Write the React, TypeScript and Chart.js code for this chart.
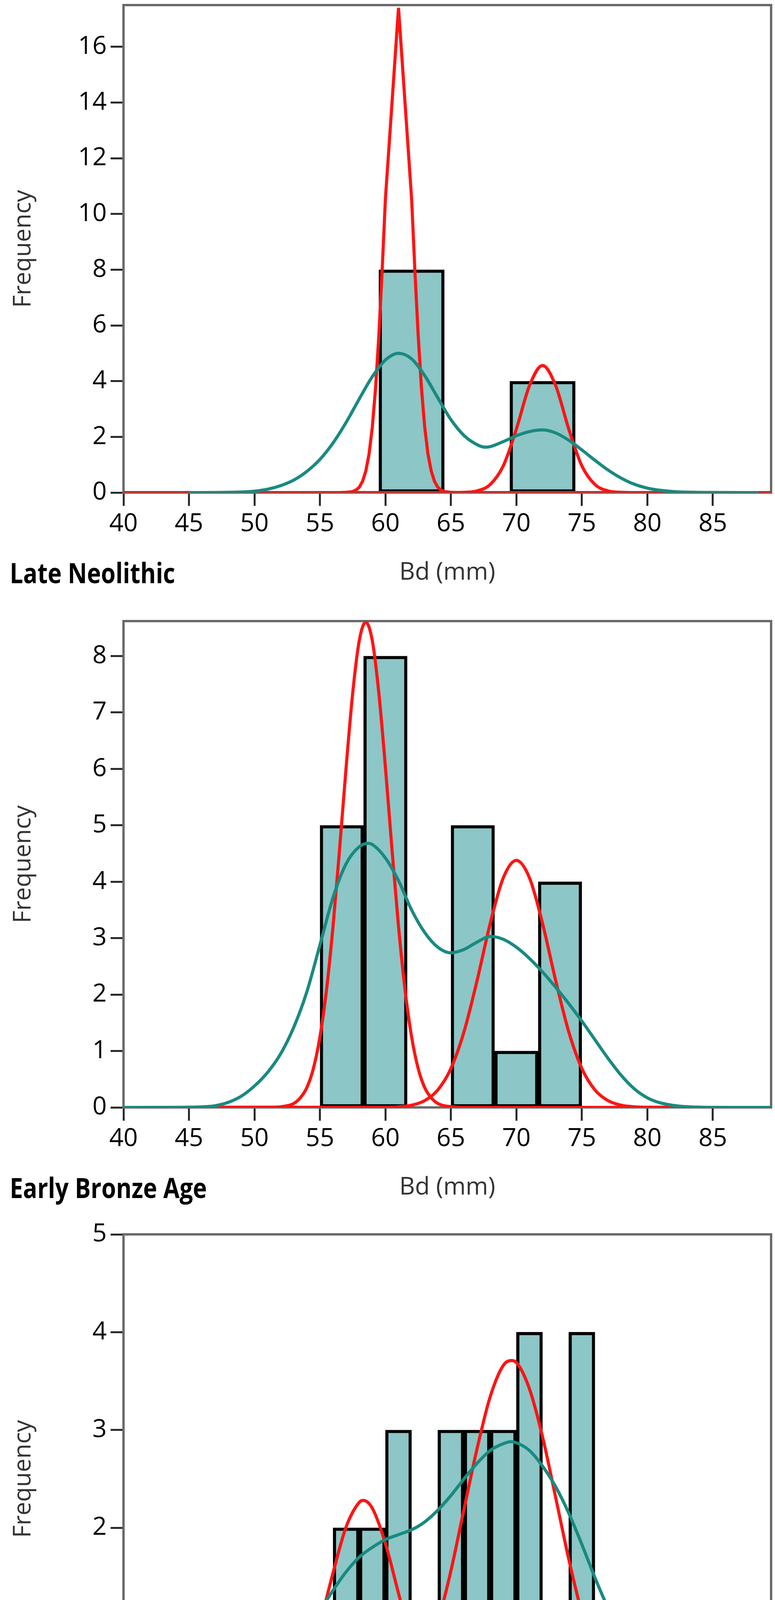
import React, { useEffect, useRef } from "react";
import { Chart, registerables } from "chart.js";

Chart.register(...registerables);

// ---- Late Neolithic ----
const lnBinCenters = [62, 67, 72];
const lnCounts = [8, 0, 4];
const lnRedAX = [40, 56.5, 57, 57.25, 57.5, 57.75, 58, 58.25, 58.5, 58.75, 59, 59.25, 59.5, 59.75, 60, 61, 62, 62.25, 62.5, 62.75, 63, 63.25, 63.5, 63.75, 64, 64.25, 64.5, 64.75, 65, 65.5, 89.45];
const lnRedAY = [0, 0, 0.01, 0.02, 0.04, 0.09, 0.19, 0.4, 0.77, 1.38, 2.35, 3.76, 5.66, 7.97, 10.55, 17.4, 10.55, 7.97, 5.66, 3.76, 2.35, 1.38, 0.77, 0.4, 0.19, 0.09, 0.04, 0.02, 0.01, 0, 0];
const lnRedBX = [40, 64, 65, 66, 67, 68, 69, 70, 71, 72, 73, 74, 75, 76, 77, 78, 79, 89.45];
const lnRedBY = [0, 0, 0.001, 0.01, 0.06, 0.29, 0.96, 2.28, 3.84, 4.56, 3.84, 2.28, 0.96, 0.29, 0.06, 0.01, 0, 0];
const lnTealX = [45, 48, 50, 51, 52, 53, 54, 55, 56, 57, 58, 59, 60, 61, 62, 63, 64, 65, 66, 67, 67.6, 68, 69, 70, 71, 72, 73, 74, 75, 76, 77, 78, 79, 80, 81, 82, 84, 88.5];
const lnTealY = [0, 0.01, 0.05, 0.12, 0.25, 0.45, 0.76, 1.19, 1.78, 2.52, 3.36, 4.16, 4.76, 5.0, 4.8, 4.2, 3.4, 2.62, 2.05, 1.72, 1.63, 1.65, 1.83, 2.04, 2.19, 2.25, 2.14, 1.88, 1.53, 1.16, 0.81, 0.52, 0.3, 0.16, 0.08, 0.035, 0.008, 0];

// ---- Early Bronze Age ----
const ebBinCenters = [56.67, 60, 63.33, 66.67, 70, 73.33];
const ebCounts = [5, 8, 0, 5, 1, 4];
const ebRedAX = [40, 51.5, 52.5, 53, 53.5, 54, 54.5, 55, 55.5, 56, 56.5, 57, 57.5, 58, 58.5, 59, 59.5, 60, 60.5, 61, 61.5, 62, 62.5, 63, 63.5, 64, 64.5, 65.5, 66, 89.45];
const ebRedAY = [0, 0.004, 0.03, 0.07, 0.17, 0.35, 0.69, 1.25, 2.08, 3.21, 4.58, 6.03, 7.34, 8.27, 8.6, 8.27, 7.34, 6.03, 4.58, 3.21, 2.08, 1.25, 0.69, 0.35, 0.17, 0.07, 0.03, 0.004, 0, 0];
const ebRedBX = [40, 60, 61, 62, 63, 64, 65, 66, 67, 68, 69, 70, 71, 72, 73, 74, 75, 76, 77, 78, 79, 80, 89.45];
const ebRedBY = [0, 0.003, 0.011, 0.039, 0.12, 0.31, 0.69, 1.34, 2.25, 3.26, 4.07, 4.38, 4.07, 3.26, 2.25, 1.34, 0.69, 0.31, 0.12, 0.039, 0.011, 0.003, 0];
const ebTealX = [40, 44, 45, 46, 47, 48, 49, 50, 51, 52, 53, 54, 55, 56, 57, 58, 58.7, 59, 60, 61, 62, 63, 64, 65, 66, 67, 68, 69, 70, 71, 72, 73, 74, 75, 76, 77, 78, 79, 80, 81, 82, 83, 84, 85, 89.45];
const ebTealY = [0, 0, 0.003, 0.01, 0.03, 0.09, 0.2, 0.38, 0.62, 0.95, 1.42, 2.05, 2.88, 3.72, 4.32, 4.62, 4.68, 4.66, 4.42, 4.02, 3.5, 3.1, 2.84, 2.74, 2.8, 2.93, 3.03, 2.98, 2.84, 2.64, 2.4, 2.13, 1.84, 1.53, 1.2, 0.87, 0.57, 0.33, 0.17, 0.08, 0.035, 0.013, 0.004, 0, 0];

// ---- Late Bronze Age ----
const lbBinCenters = [55, 57, 59, 61, 63, 65, 67, 69, 71, 73, 75];
const lbCounts = [1, 2, 2, 3, 0, 3, 3, 3, 4, 1, 4];
const lbRedAX = [40, 48, 49, 50, 51, 52, 53, 54, 55, 56, 57, 58, 58.3, 59, 60, 61, 62, 63, 64, 65, 66, 67, 68, 89.45];
const lbRedAY = [0, 0, 0.004, 0.014, 0.044, 0.12, 0.29, 0.58, 1.02, 1.54, 2.01, 2.26, 2.28, 2.2, 1.84, 1.33, 0.83, 0.45, 0.21, 0.082, 0.028, 0.008, 0.002, 0];
const lbRedBX = [40, 56, 57, 58, 59, 60, 61, 62, 63, 64, 65, 66, 67, 68, 69, 69.6, 70, 71, 72, 73, 74, 75, 76, 77, 78, 79, 80, 81, 82, 83, 89.45];
const lbRedBY = [0, 0.002, 0.006, 0.015, 0.038, 0.086, 0.18, 0.35, 0.63, 1.03, 1.56, 2.19, 2.81, 3.34, 3.66, 3.71, 3.69, 3.42, 2.93, 2.31, 1.68, 1.13, 0.7, 0.4, 0.21, 0.1, 0.045, 0.019, 0.007, 0.002, 0];
const lbTealX = [40, 44, 45, 46, 47, 48, 49, 50, 51, 52, 53, 54, 55, 56, 57, 58, 59, 60, 61, 62, 63, 64, 65, 66, 67, 68, 69, 69.6, 70, 71, 72, 73, 74, 75, 76, 77, 78, 79, 80, 81, 82, 83, 84, 85, 86, 89.45];
const lbTealY = [0, 0, 0.01, 0.02, 0.05, 0.1, 0.18, 0.28, 0.4, 0.54, 0.72, 0.93, 1.15, 1.36, 1.55, 1.7, 1.8, 1.88, 1.93, 1.98, 2.06, 2.18, 2.33, 2.5, 2.66, 2.79, 2.86, 2.88, 2.87, 2.79, 2.63, 2.42, 2.15, 1.83, 1.49, 1.18, 0.9, 0.65, 0.42, 0.26, 0.14, 0.07, 0.03, 0.01, 0, 0];

const X_MIN = 40;
const X_MAX = 89.45;

const RED = "#ff1414";
const TEAL = "#198a80";
const BAR_FILL = "#8cc6c6";
const FONT = "'Open Sans', 'Noto Sans', sans-serif";

const pts = (xs: number[], ys: number[]) => xs.map((x, i) => ({ x, y: ys[i] }));

const framePlugin = {
  id: "plotFrame",
  beforeDatasetsDraw(chart: any) {
    const { ctx, chartArea: a } = chart;
    ctx.save();
    ctx.strokeStyle = "#6a6a6a";
    ctx.lineWidth = 6;
    ctx.strokeRect(a.left, a.top, a.right - a.left, a.bottom - a.top);
    ctx.restore();
  },
};

type PanelProps = {
  top: number;
  plotHeight: number;
  label: string;
  yMax: number;
  yStep: number;
  centers: number[];
  counts: number[];
  redA: [number[], number[]];
  redB: [number[], number[]];
  teal: [number[], number[]];
  sharpRed?: boolean;
};

const PAD_TOP = 60;
const X_AXIS_H = 250;
const Y_AXIS_W = 316;

const Panel: React.FC<PanelProps> = (p) => {
  const ref = useRef<HTMLCanvasElement | null>(null);
  const chartRef = useRef<Chart | null>(null);
  const height = PAD_TOP + p.plotHeight + X_AXIS_H;

  useEffect(() => {
    if (!ref.current) return;
    const line = (xs: number[], ys: number[], color: string, sharp = false) => ({
      type: "line" as const,
      data: pts(xs, ys),
      borderColor: color,
      borderWidth: 8,
      pointRadius: 0,
      fill: false,
      tension: sharp ? 0 : 0.4,
      cubicInterpolationMode: sharp ? ("default" as const) : ("monotone" as const),
    });
    chartRef.current = new Chart(ref.current, {
      type: "line",
      data: {
        datasets: [
          line(p.teal[0], p.teal[1], TEAL),
          line(p.redA[0], p.redA[1], RED, !!p.sharpRed),
          line(p.redB[0], p.redB[1], RED),
          {
            type: "bar" as const,
            data: pts(p.centers, p.counts),
            backgroundColor: BAR_FILL,
            borderColor: "#000",
            borderWidth: 8,
            borderSkipped: false,
            barPercentage: 1,
            categoryPercentage: 1,
          } as any,
        ],
      },
      options: {
        responsive: false,
        animation: false,
        events: [],
        layout: { padding: { top: PAD_TOP, right: 10, bottom: 0, left: 0 } },
        plugins: { legend: { display: false }, tooltip: { enabled: false }, title: { display: false } },
        scales: {
          x: {
            type: "linear",
            min: X_MIN,
            max: X_MAX,
            offset: false,
            afterFit: (s: any) => {
              s.height = X_AXIS_H;
            },
            border: { display: false },
            grid: { drawOnChartArea: false, drawTicks: true, tickLength: 34, tickWidth: 5, tickColor: "#2a2a2a", offset: false },
            ticks: { stepSize: 5, includeBounds: false, color: "#000", padding: 8, font: { family: FONT, size: 64 } },
            title: {
              display: true,
              text: "Bd (mm)",
              color: "#333",
              font: { family: FONT, size: 62 },
              padding: { top: 0, bottom: 7 },
            },
          },
          y: {
            type: "linear",
            min: 0,
            max: p.yMax,
            afterFit: (s: any) => {
              s.width = Y_AXIS_W;
            },
            border: { display: false },
            grid: { drawOnChartArea: false, drawTicks: true, tickLength: 33, tickWidth: 5, tickColor: "#2a2a2a" },
            ticks: { stepSize: p.yStep, includeBounds: false, color: "#000", padding: 10, font: { family: FONT, size: 64 } },
            title: {
              display: true,
              text: "Frequency",
              color: "#333",
              font: { family: FONT, size: 62 },
              padding: { top: 23, bottom: 0 },
            },
          },
        },
      },
      plugins: [framePlugin],
    } as any);
    return () => {
      chartRef.current?.destroy();
    };
  }, []);

  const axisY = p.top + PAD_TOP + p.plotHeight;

  return (
    <>
      <div style={{ position: "absolute", left: 0, top: p.top, width: 1983, height }}>
        <canvas ref={ref} width={1983} height={height} />
      </div>
      <div
        style={{
          position: "absolute",
          left: 25,
          top: axisY + 168,
          fontFamily: FONT,
          fontWeight: 700,
          fontSize: 72,
          lineHeight: "72px",
          color: "#000",
          whiteSpace: "nowrap",
          transform: "scaleX(0.84)",
          transformOrigin: "left top",
        }}
      >
        {p.label}
      </div>
    </>
  );
};

export default function App() {
  useEffect(() => {
    document.body.style.margin = "0";
  }, []);
  return (
    <div style={{ position: "relative", width: 1983, height: 4661, overflow: "hidden", background: "#fff" }}>
      <Panel
        top={-47}
        plotHeight={1248}
        label="Late Neolithic"
        yMax={17.5}
        yStep={2}
        centers={lnBinCenters}
        counts={lnCounts}
        redA={[lnRedAX, lnRedAY]}
        redB={[lnRedBX, lnRedBY]}
        teal={[lnTealX, lnTealY]}
        sharpRed
      />
      <Panel
        top={1530}
        plotHeight={1245}
        label="Early Bronze Age"
        yMax={8.62}
        yStep={1}
        centers={ebBinCenters}
        counts={ebCounts}
        redA={[ebRedAX, ebRedAY]}
        redB={[ebRedBX, ebRedBY]}
        teal={[ebTealX, ebTealY]}
      />
      <Panel
        top={3100}
        plotHeight={1252}
        label="Late Bronze Age"
        yMax={5}
        yStep={1}
        centers={lbBinCenters}
        counts={lbCounts}
        redA={[lbRedAX, lbRedAY]}
        redB={[lbRedBX, lbRedBY]}
        teal={[lbTealX, lbTealY]}
      />
    </div>
  );
}
